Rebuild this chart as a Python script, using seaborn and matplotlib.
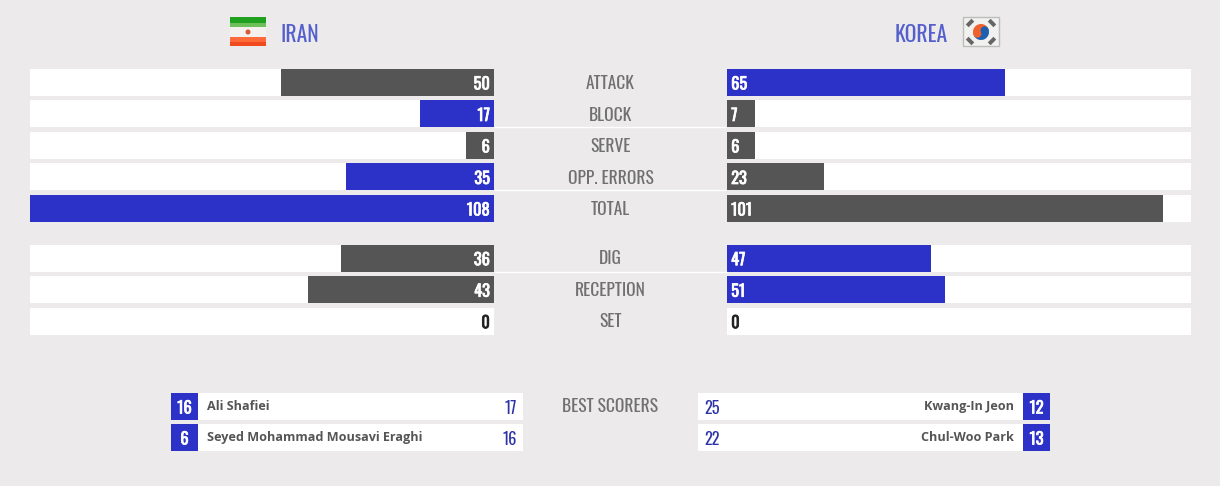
import matplotlib.pyplot as plt
import matplotlib.patheffects as pe
from matplotlib.patches import Rectangle, Circle, Wedge
import seaborn as sns

# The numbers from the match sheet
top_stats = ['ATTACK', 'BLOCK', 'SERVE', 'OPP. ERRORS', 'TOTAL']
iran_top = [50, 17, 6, 35, 108]
korea_top = [65, 7, 6, 23, 101]

bottom_stats = ['DIG', 'RECEPTION', 'SET']
iran_bottom = [36, 43, 0]
korea_bottom = [47, 51, 0]

iran_numbers = [16, 6]
iran_names = ['Ali Shafiei', 'Seyed Mohammad Mousavi Eraghi']
iran_points = [17, 16]
korea_numbers = [12, 13]
korea_names = ['Kwang-In Jeon', 'Chul-Woo Park']
korea_points = [25, 22]

BG = '#ECEAEB'
BLUE = '#2C32C8'
GREY = '#555555'
HEAD_BLUE = '#5560CC'
LABEL = '#707070'
NARROW = ['Oswald', 'Liberation Sans Narrow', 'Liberation Sans', 'DejaVu Sans']

W, H = 1220, 486
ROW = 31.5
BAR = 27

sns.set_theme(style='white')
plt.rcParams['font.family'] = NARROW

fig = plt.figure(figsize=(W / 100, H / 100), dpi=100, facecolor=BG)


def px_axes(left, top, width, height):
    # axes placed by pixel box of the picture
    ax = fig.add_axes([left / W, 1 - (top + height) / H, width / W, height / H])
    ax.patch.set_alpha(0)
    return ax


def heavy(colour):
    # the installed font only has one weight, so thicken the numbers a little
    return [pe.withStroke(linewidth=0.5, foreground=colour)]


def side_bars(left, top, stats, values, others, inverted):
    ax = px_axes(left, top, 464, ROW * len(stats))
    # the site rounds every bar to a whole percent of the biggest value
    biggest = max(iran_top + korea_top)
    percent = [round(v / biggest * 100) for v in values]
    colours = {s: (BLUE if v > o else GREY) for s, v, o in zip(stats, values, others)}
    sns.barplot(x=[100] * len(stats), y=stats, color='white', width=BAR / ROW,
                saturation=1, linewidth=0, ax=ax)
    sns.barplot(x=percent, y=stats, hue=stats, palette=colours, width=BAR / ROW,
                saturation=1, linewidth=0, legend=False, ax=ax)
    ax.set_xlim(100, 0) if inverted else ax.set_xlim(0, 100)
    ax.axis('off')
    for i, v in enumerate(values):
        # labels sit inside the bar next to the centre
        colour = 'white' if v > 0 else '#222222'
        ax.annotate(str(v), (0, i), xytext=(-3 if inverted else 3, 0),
                    textcoords='offset points', va='center_baseline',
                    ha='right' if inverted else 'left',
                    color=colour, fontsize=11.8, path_effects=heavy(colour))


def centre_labels(top, stats, lines):
    ax = px_axes(494, top, 233, ROW * len(stats))
    ax.set_xlim(0, 1)
    ax.set_ylim(len(stats) - 0.5, -0.5)
    ax.axis('off')
    for i, s in enumerate(stats):
        ax.text(0.5, i, s, ha='center', va='center_baseline', color=LABEL, fontsize=12.5)
    for i in lines:
        ax.hlines(i + BAR / ROW / 2, 0, 1, color='white', lw=1)


side_bars(30, 66.75, top_stats, iran_top, korea_top, True)
side_bars(727, 66.75, top_stats, korea_top, iran_top, False)
centre_labels(66.5, top_stats, [1, 3])

side_bars(30, 242.5, bottom_stats, iran_bottom, korea_bottom, True)
side_bars(727, 242.5, bottom_stats, korea_bottom, iran_bottom, False)
centre_labels(241.5, bottom_stats, [])

# Everything else is placed in pixels on a full size layer
ov = px_axes(0, 0, W, H)
ov.set_xlim(0, W)
ov.set_ylim(H, 0)
ov.axis('off')

ov.hlines(272, 494, 727, color='white', lw=1)

ov.text(280, 33, 'IRAN', color=HEAD_BLUE, fontsize=15.6, ha='left', va='center_baseline')
ov.text(948, 33, 'KOREA', color=HEAD_BLUE, fontsize=15.6, ha='right', va='center_baseline')

# Iran flag
ov.add_patch(Rectangle((230, 17), 36, 6, color='#1FA01F', lw=0))
ov.add_patch(Rectangle((230, 23), 36, 4, color='#6DBF5A', lw=0))
ov.add_patch(Rectangle((230, 27), 36, 10, color='#F4F0EE', lw=0))
ov.add_patch(Rectangle((230, 37), 36, 5, color='#FF6A3A', lw=0))
ov.add_patch(Rectangle((230, 42), 36, 4, color='#F04A1E', lw=0))
ov.add_patch(Circle((248, 32), 2.5, color='#D9583A', lw=0))

# Korea flag
ov.add_patch(Rectangle((963, 17), 36, 29, facecolor='#F1F1EF', edgecolor='#BDBDBD', lw=1))
ov.add_patch(Wedge((981, 32), 8, 155, 335, color='#F0622D', lw=0, zorder=3))
ov.add_patch(Wedge((981, 32), 8, 335, 155, color='#1F5FB0', lw=0, zorder=3))
ov.add_patch(Circle((977.4, 33.7), 4, color='#F0622D', lw=0, zorder=4))
ov.add_patch(Circle((984.6, 30.3), 4, color='#1F5FB0', lw=0, zorder=4))
for x, y, ang in [(970, 23, -45), (992, 23, 45), (970, 41, 45), (992, 41, -45)]:
    ov.add_patch(Rectangle((x - 4, y - 2), 8, 4, angle=ang, rotation_point='center',
                           color='#666666', lw=0))

ov.text(610.5, 405, 'BEST SCORERS', color=LABEL, fontsize=12.5, ha='center',
        va='center_baseline')

for i, top in enumerate([393, 424]):
    mid = top + BAR / 2
    # left table
    ov.add_patch(Rectangle((171, top), 352, BAR, color='white', lw=0))
    ov.add_patch(Rectangle((171, top), 27, BAR, color=BLUE, lw=0))
    ov.text(184.5, mid, str(iran_numbers[i]), color='white', fontsize=11.8,
            ha='center', va='center_baseline', path_effects=heavy('white'))
    ov.text(207, mid - 2, iran_names[i], color=GREY, fontsize=9.1, fontweight='bold',
            family='Open Sans', ha='left', va='center_baseline')
    ov.text(517, mid, str(iran_points[i]), color='#2C32A8', fontsize=11.8, ha='right',
            va='center_baseline')
    # right table
    ov.add_patch(Rectangle((698, top), 352, BAR, color='white', lw=0))
    ov.add_patch(Rectangle((1023, top), 27, BAR, color=BLUE, lw=0))
    ov.text(1036.5, mid, str(korea_numbers[i]), color='white', fontsize=11.8,
            ha='center', va='center_baseline', path_effects=heavy('white'))
    ov.text(1014, mid - 2, korea_names[i], color=GREY, fontsize=9.1, fontweight='bold',
            family='Open Sans', ha='right', va='center_baseline')
    ov.text(704, mid, str(korea_points[i]), color='#2C32A8', fontsize=11.8, ha='left',
            va='center_baseline')

plt.savefig('out.png', dpi=100, facecolor=BG)
